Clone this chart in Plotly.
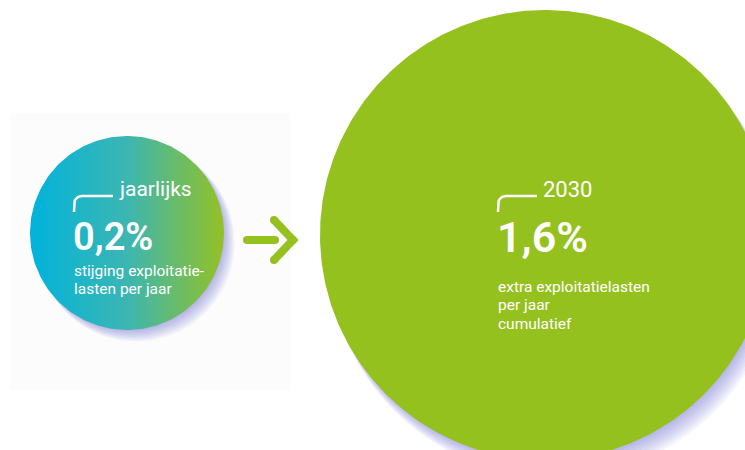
import numpy as np
import plotly.graph_objects as go

# ---- data ----
top_labels = ["jaarlijks", "2030"]
values = [0.2, 1.6]
descriptions = [["stijging exploitatie-", "lasten per jaar"],
                ["extra exploitatielasten", "per jaar", "cumulatief"]]

# ---- layout geometry (pixels) ----
W, H = 745, 450
circles = [dict(cx=127, cy=233, r=97, shadow=(1.0, 1.1)),
           dict(cx=545, cy=235, r=225, shadow=(1.1, 1.8))]
text_x = [73, 497]
GREEN = "#95c11f"
FONT = "Roboto"

fig = go.Figure()

def circle_xy(cx, cy, r, n=240):
    t = np.linspace(0, 2 * np.pi, n)
    return cx + r * np.cos(t), cy + r * np.sin(t)

# shadows
for c in circles:
    ox, oy = c["shadow"]
    for k in range(1, 10):
        x, y = circle_xy(c["cx"] + ox * k, c["cy"] + oy * k, c["r"] - 2 + k * 0.4)
        fig.add_trace(go.Scatter(x=x, y=y, fill="toself", mode="lines", line=dict(width=0),
                                 fillcolor="rgba(80,90,200,0.06)", hoverinfo="skip", showlegend=False))

# small circle with gradient
x, y = circle_xy(circles[0]["cx"], circles[0]["cy"], circles[0]["r"])
fig.add_trace(go.Scatter(x=x, y=y, fill="toself", mode="lines", line=dict(width=0),
                         fillgradient=dict(type="horizontal",
                                           colorscale=[[0, "#00b3dc"], [0.5, "#3cb6b2"], [1, "#93c125"]]),
                         hoverinfo="skip", showlegend=False))
# big circle
x, y = circle_xy(circles[1]["cx"], circles[1]["cy"], circles[1]["r"], 400)
fig.add_trace(go.Scatter(x=x, y=y, fill="toself", mode="lines", line=dict(width=0),
                         fillcolor=GREEN, hoverinfo="skip", showlegend=False))

# brackets
for tx in text_x:
    rr = 8
    t = np.linspace(np.pi, 1.5 * np.pi, 12)
    ax = tx + 1 + rr + rr * np.cos(t)
    ay = 196 + rr + rr * np.sin(t)
    bx = np.concatenate([[tx + 1], ax, [tx + 40]])
    by = np.concatenate([[212], ay, [196]])
    fig.add_trace(go.Scatter(x=bx, y=by, mode="lines", line=dict(color="white", width=2.5),
                             hoverinfo="skip", showlegend=False))

# arrow
fig.add_trace(go.Scatter(x=[247, 275], y=[240, 240], mode="lines+markers",
                         line=dict(color=GREEN, width=8), marker=dict(color=GREEN, size=8),
                         hoverinfo="skip", showlegend=False))
fig.add_trace(go.Scatter(x=[274, 293, 274], y=[220, 240, 260], mode="lines+markers",
                         line=dict(color=GREEN, width=8), marker=dict(color=GREEN, size=8),
                         hoverinfo="skip", showlegend=False))

ann = []
num_sizes = [38, 43]
top_sizes = [21, 22]
for i in range(2):
    tx = text_x[i]
    ann.append(dict(x=tx + 44, y=189, text=top_labels[i], xanchor="left", yanchor="middle",
                    showarrow=False, font=dict(family=FONT, size=top_sizes[i], color="white")))
    ann.append(dict(x=tx - 2, y=237, text=f"{values[i]:.1f}".replace(".", ",") + "%",
                    xanchor="left", yanchor="middle", showarrow=False,
                    font=dict(family=FONT, size=num_sizes[i], color="white", weight=600)))
    base = 271 if i == 0 else 287
    for j, line in enumerate(descriptions[i]):
        ann.append(dict(x=tx - 1, y=base + j * 18.4, text=line, xanchor="left", yanchor="middle",
                        showarrow=False, font=dict(family=FONT, size=15.5, color="white")))

fig.update_layout(
    width=W, height=H, margin=dict(l=0, r=0, t=0, b=0),
    paper_bgcolor="white", plot_bgcolor="white",
    xaxis=dict(range=[0, W], visible=False, fixedrange=True),
    yaxis=dict(range=[H, 0], visible=False, fixedrange=True),
    annotations=ann,
    shapes=[dict(type="rect", x0=10, x1=290, y0=113, y1=390, fillcolor="#fcfcfc",
                 line=dict(width=0), layer="below")],
)
fig.write_html("out.html")
